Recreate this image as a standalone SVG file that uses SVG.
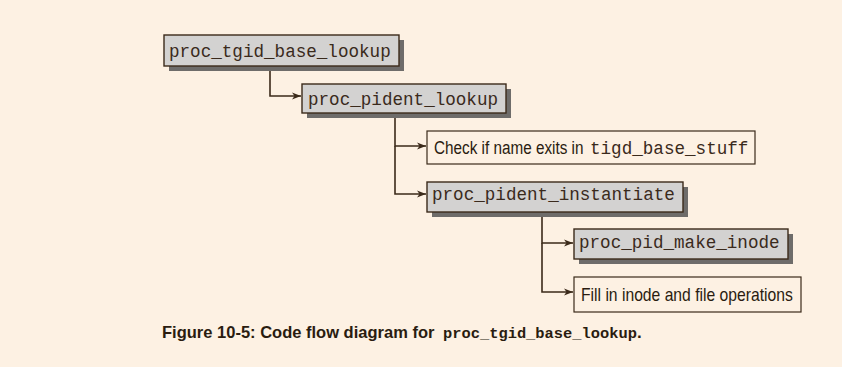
<svg xmlns="http://www.w3.org/2000/svg" width="842" height="367" viewBox="0 0 842 367">
  <style>
    .shadow { fill: #6e6c6a; }
    .func { fill: #d3d2d1; stroke: #3b2a1a; stroke-width: 1.4; }
    .note { fill: #fdf1e3; stroke: #3b2a1a; stroke-width: 1.2; }
    .code { font-family: "Liberation Mono", "Courier New", monospace; font-size: 17.6px; fill: #3a2a1c; }
    .sans { font-family: "Liberation Sans", Arial, sans-serif; font-size: 19px; fill: #2a1c10; }
    .link { fill: none; stroke: #3b2a1a; stroke-width: 1.6; }
    .cap { font-family: "Liberation Sans", Arial, sans-serif; font-size: 17px; font-weight: bold; fill: #2a1c10; }
    .capcode { font-family: "Liberation Mono", "Courier New", monospace; font-size: 15.4px; font-weight: bold; fill: #2a1c10; }
  </style>
  <defs>
    <marker id="arrow" markerWidth="10" markerHeight="8" refX="9" refY="4" orient="auto" markerUnits="userSpaceOnUse">
      <path d="M0,0.5 L9,4 L0,7.5 L2.5,4 Z" fill="#3b2a1a"/>
    </marker>
  </defs>

  <rect width="842" height="367" fill="#fdf1e3"/>

  <!-- connectors -->
  <g id="connectors">
    <path class="link" d="M270,66 V96 H301" marker-end="url(#arrow)"/>
    <path class="link" d="M395,113 V146 H426" marker-end="url(#arrow)"/>
    <path class="link" d="M395,146 V194 H426" marker-end="url(#arrow)"/>
    <path class="link" d="M542,212 V243 H573" marker-end="url(#arrow)"/>
    <path class="link" d="M542,243 V292 H573" marker-end="url(#arrow)"/>
  </g>

  <g id="proc_tgid_base_lookup">
    <rect class="shadow" x="169" y="40" width="235" height="31"/>
    <rect class="func" x="164" y="35" width="235" height="31"/>
    <text class="code" x="169" y="57">proc_tgid_base_lookup</text>
  </g>

  <g id="proc_pident_lookup">
    <rect class="shadow" x="307" y="89" width="204" height="29"/>
    <rect class="func" x="302" y="84" width="204" height="29"/>
    <text class="code" x="308" y="105">proc_pident_lookup</text>
  </g>

  <g id="check_name">
    <rect class="note" x="427" y="131" width="328" height="33"/>
    <!-- condensed sans label: horizontal squeeze -->
    <text class="sans" transform="translate(434,154) scale(0.805,1)">Check if name exits in</text>
    <text class="code" x="590" y="154">tigd_base_stuff</text>
  </g>

  <g id="proc_pident_instantiate">
    <rect class="shadow" x="432" y="187" width="256" height="30"/>
    <rect class="func" x="427" y="182" width="256" height="30"/>
    <text class="code" x="432" y="200">proc_pident_instantiate</text>
  </g>

  <g id="proc_pid_make_inode">
    <rect class="shadow" x="579" y="234" width="214" height="30"/>
    <rect class="func" x="574" y="229" width="214" height="30"/>
    <text class="code" x="579" y="248">proc_pid_make_inode</text>
  </g>

  <g id="fill_inode">
    <rect class="note" x="574" y="277" width="227" height="35"/>
    <text class="sans" transform="translate(581,301) scale(0.826,1)">Fill in inode and file operations</text>
  </g>

  <g id="caption">
    <text x="162" y="338"><tspan class="cap" textLength="277" lengthAdjust="spacingAndGlyphs">Figure 10-5: Code flow diagram for </tspan><tspan class="capcode" x="443">proc_tgid_base_lookup</tspan><tspan class="cap">.</tspan></text>
  </g>
</svg>
